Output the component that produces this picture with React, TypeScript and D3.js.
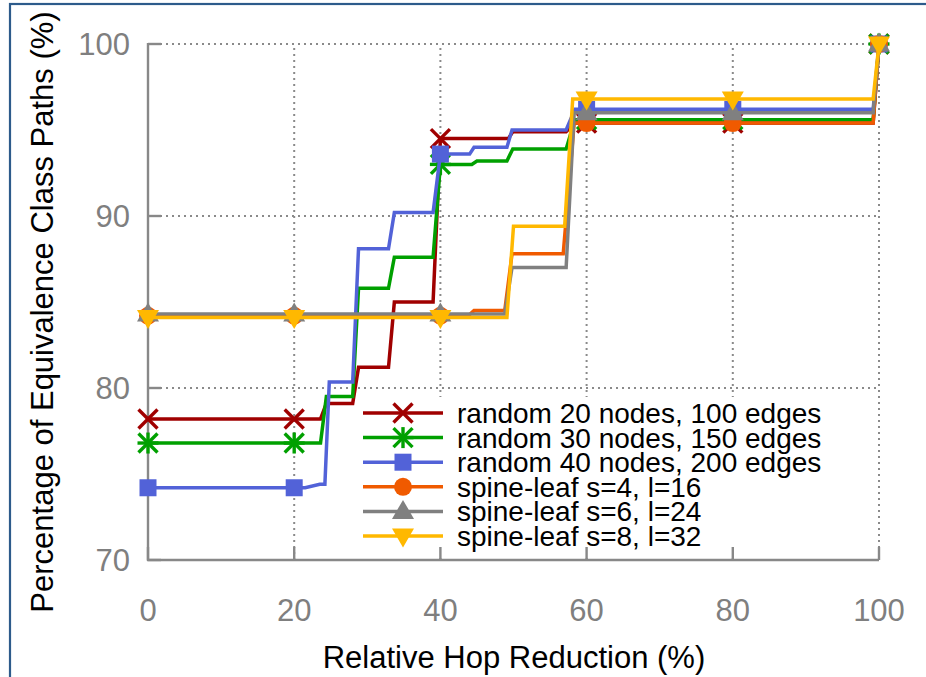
import React from "react";
import * as d3 from "d3";

const xTicks = [0, 20, 40, 60, 80, 100];
const yTicks = [70, 80, 90, 100];

const names = [
  "random 20 nodes, 100 edges",
  "random 30 nodes, 150 edges",
  "random 40 nodes, 200 edges",
  "spine-leaf s=4, l=16",
  "spine-leaf s=6, l=24",
  "spine-leaf s=8, l=32",
];
const colors = ["#a00000", "#00a000", "#5262d8", "#f05a00", "#808080", "#ffb800"];
const markers = ["x", "star", "square", "circle", "tri-up", "tri-down"];

const r20x = [0, 20, 23.6, 24.4, 28, 28.8, 32.9, 33.7, 39, 40, 49.3, 49.9, 57.2, 58.4, 60, 80, 99.2, 100];
const r20y = [78.2, 78.2, 78.2, 79.1, 79.1, 81.2, 81.2, 85.0, 85.0, 94.5, 94.5, 94.9, 94.9, 95.4, 95.4, 95.4, 95.4, 100];

const r30x = [0, 20, 23.6, 24.4, 28, 28.8, 32.9, 33.7, 39, 40, 44.3, 45, 49.1, 49.9, 57.2, 58.4, 60, 80, 99.2, 100];
const r30y = [76.8, 76.8, 76.8, 79.5, 79.5, 85.8, 85.8, 87.6, 87.6, 93.0, 93.0, 93.2, 93.2, 93.9, 93.9, 95.6, 95.6, 95.6, 95.6, 100];

const r40x = [0, 20, 21.5, 23.5, 24.2, 24.8, 28, 28.8, 32.9, 33.7, 39, 40, 44, 44.6, 49.1, 49.8, 57.2, 58.4, 60, 80, 99.2, 100];
const r40y = [74.2, 74.2, 74.2, 74.4, 74.4, 80.35, 80.35, 88.1, 88.1, 90.2, 90.2, 93.6, 93.6, 94.0, 94.0, 95.0, 95.0, 96.2, 96.2, 96.2, 96.2, 100];

const s4x = [0, 20, 40, 43.8, 44.6, 48.8, 49.8, 56.8, 58.3, 60, 80, 99.2, 100];
const s4y = [84.2, 84.2, 84.2, 84.2, 84.5, 84.5, 87.8, 87.8, 95.4, 95.4, 95.4, 95.4, 100];

const s6x = [0, 20, 40, 48.8, 49.8, 57.2, 58.3, 60, 80, 99.2, 100];
const s6y = [84.3, 84.3, 84.3, 84.3, 87.0, 87.0, 96.0, 96.0, 96.0, 96.0, 100];

const s8x = [0, 20, 40, 49.1, 50.0, 57.0, 58.1, 60, 80, 99.2, 100];
const s8y = [84.1, 84.1, 84.1, 84.1, 89.4, 89.4, 96.8, 96.8, 96.8, 96.8, 100];

const seriesX = [r20x, r30x, r40x, s4x, s6x, s8x];
const seriesY = [r20y, r30y, r40y, s4y, s6y, s8y];

const W = 926;
const H = 677;
const FONT = "'Liberation Sans', Arial, sans-serif";
const LW = 3.5;

const x = d3.scaleLinear().domain([0, 100]).range([148, 879]);
const y = d3.scaleLinear().domain([70, 100]).range([560, 44]);

function Marker({ kind, cx, cy, color }: { kind: string; cx: number; cy: number; color: string }) {
  const s = 9.5;
  if (kind === "x") {
    return (
      <g stroke={color} strokeWidth={3.4}>
        <line x1={cx - s} y1={cy - s} x2={cx + s} y2={cy + s} />
        <line x1={cx - s} y1={cy + s} x2={cx + s} y2={cy - s} />
      </g>
    );
  }
  if (kind === "star") {
    return (
      <g stroke={color} strokeWidth={3.4}>
        <line x1={cx - s} y1={cy - s} x2={cx + s} y2={cy + s} />
        <line x1={cx - s} y1={cy + s} x2={cx + s} y2={cy - s} />
        <line x1={cx} y1={cy - s - 1} x2={cx} y2={cy + s + 1} />
        <line x1={cx - s - 1} y1={cy} x2={cx + s + 1} y2={cy} />
      </g>
    );
  }
  if (kind === "square") {
    return <rect x={cx - 8.5} y={cy - 8.5} width={17} height={17} fill={color} />;
  }
  if (kind === "circle") {
    return <circle cx={cx} cy={cy} r={9} fill={color} />;
  }
  if (kind === "tri-up") {
    const p = d3.path();
    p.moveTo(cx, cy - 11.5);
    p.lineTo(cx + 11, cy + 7.5);
    p.lineTo(cx - 11, cy + 7.5);
    p.closePath();
    return <path d={p.toString()} fill={color} />;
  }
  const p = d3.path();
  p.moveTo(cx, cy + 11.5);
  p.lineTo(cx + 11, cy - 7.5);
  p.lineTo(cx - 11, cy - 7.5);
  p.closePath();
  return <path d={p.toString()} fill={color} />;
}

export default function App() {
  const line = d3
    .line<[number, number]>()
    .x((d) => x(d[0]))
    .y((d) => y(d[1]));

  const gridColor = "#8a8a8a";
  const axisColor = "#888888";

  const legendX0 = 363;
  const legendX1 = 443;
  const legendTextX = 457;
  const legendY0 = 413;
  const legendDy = 24.6;

  return (
    <svg
      width={W}
      height={H}
      style={{ position: "absolute", left: 0, top: 0, background: "#fff" }}
      fontFamily={FONT}
    >
      <rect x={0} y={0} width={W} height={H} fill="#fff" />
      {/* frame */}
      <rect x={10} y={4} width={W + 20} height={H + 20} fill="none" stroke="#2d5b8b" strokeWidth={2.2} />

      {/* grid */}
      {xTicks.slice(1).map((t) => (
        <line
          key={"gx" + t}
          x1={x(t)}
          x2={x(t)}
          y1={y(70)}
          y2={y(100)}
          stroke={gridColor}
          strokeWidth={2}
          strokeDasharray="2,4"
        />
      ))}
      {yTicks.slice(1).map((t) => (
        <line
          key={"gy" + t}
          x1={x(0)}
          x2={x(100)}
          y1={y(t)}
          y2={y(t)}
          stroke={gridColor}
          strokeWidth={2}
          strokeDasharray="2,4"
        />
      ))}

      {/* legend background */}
      <rect x={346} y={397} width={490} height={158} fill="#fff" />

      {/* axes */}
      <line x1={x(0)} x2={x(0)} y1={y(70) + 1} y2={y(100) - 1} stroke={axisColor} strokeWidth={2.4} />
      <line x1={x(0) - 1} x2={x(100)} y1={y(70)} y2={y(70)} stroke={axisColor} strokeWidth={2.4} />
      {xTicks.map((t) => (
        <line key={"tx" + t} x1={x(t)} x2={x(t)} y1={y(70)} y2={y(70) - 13} stroke={axisColor} strokeWidth={2.4} />
      ))}
      {yTicks.map((t) => (
        <line key={"ty" + t} x1={x(0)} x2={x(0) + 13} y1={y(t)} y2={y(t)} stroke={axisColor} strokeWidth={2.4} />
      ))}

      {/* tick labels */}
      {xTicks.map((t) => (
        <text key={"lx" + t} x={x(t)} y={621} textAnchor="middle" fontSize={31} fill="#7f7f7f">
          {t}
        </text>
      ))}
      {yTicks.map((t) => (
        <text key={"ly" + t} x={130} y={y(t) + 11} textAnchor="end" fontSize={31} fill="#7f7f7f">
          {t}
        </text>
      ))}

      {/* axis titles */}
      <text x={514} y={668} textAnchor="middle" fontSize={31} fill="#000">
        Relative Hop Reduction (%)
      </text>
      <text
        transform={`translate(53, 312) rotate(-90)`}
        textAnchor="middle"
        fontSize={31}
        fill="#000"
      >
        Percentage of Equivalence Class Paths (%)
      </text>

      {/* series */}
      {seriesX.map((xs, i) => {
        const pts: [number, number][] = xs.map((v, j) => [v, seriesY[i][j]]);
        const marks = pts.filter((p) => xTicks.includes(p[0]));
        return (
          <g key={"s" + i}>
            <path d={line(pts) || ""} fill="none" stroke={colors[i]} strokeWidth={LW} strokeLinejoin="miter" />
            {marks.map((p, k) => (
              <Marker key={k} kind={markers[i]} cx={x(p[0])} cy={y(p[1])} color={colors[i]} />
            ))}
          </g>
        );
      })}

      {/* legend */}
      {names.map((n, i) => {
        const ly = legendY0 + i * legendDy;
        return (
          <g key={"lg" + i}>
            <line x1={legendX0} x2={legendX1} y1={ly} y2={ly} stroke={colors[i]} strokeWidth={LW} />
            <Marker kind={markers[i]} cx={(legendX0 + legendX1) / 2} cy={ly} color={colors[i]} />
            <text x={legendTextX} y={ly + 10} fontSize={28} fill="#000">
              {n}
            </text>
          </g>
        );
      })}
    </svg>
  );
}
